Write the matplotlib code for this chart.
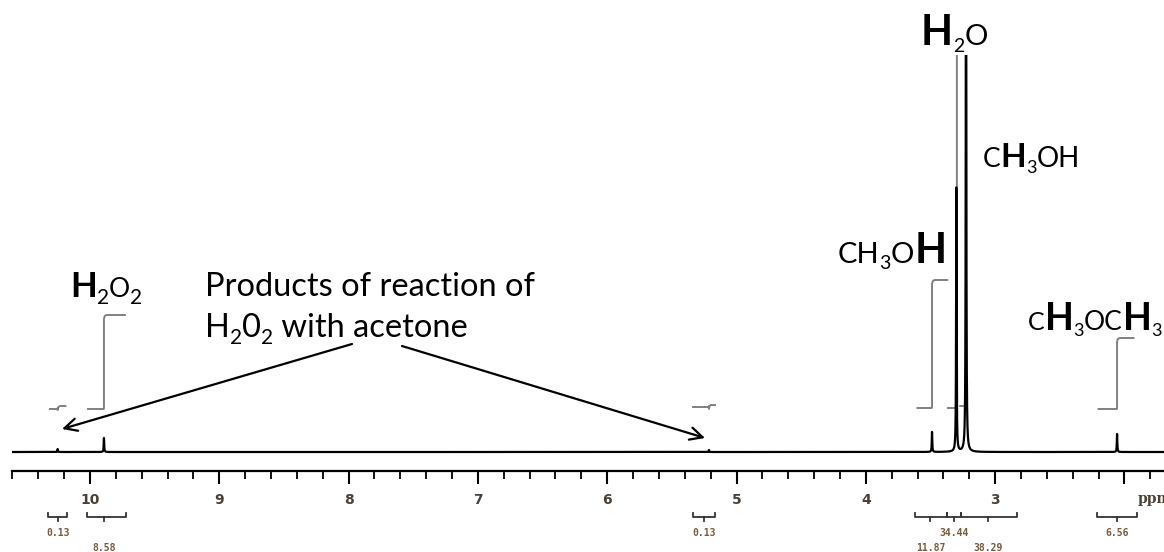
import numpy as np
import matplotlib
matplotlib.use("Agg")
import matplotlib.pyplot as plt
from matplotlib.transforms import offset_copy

# ---------------- data ----------------
peak_ppm = [10.25, 9.892, 5.213, 3.488, 3.300, 3.225, 2.057]
peak_height = [3, 14, 2, 20, 264, 700, 18]
peak_hwhm = 0.0022

# integral traces (start, rise position, end, low level, high level)
int_start = [10.31, 10.015, 5.336, 3.600, 3.365, 3.270, 2.200]
int_rise = [10.25, 9.892, 5.213, 3.488, 3.296, 3.225, 2.057]
int_end = [10.19, 9.730, 5.166, 3.370, 3.250, 3.180, 1.930]
int_low = [43, 43, 45, 44, 44, 46, 43]
int_high = [46, 137, 47, 172, 600, 600, 114]

# integration regions below the axis
reg_lo = [10.325, 10.023, 5.336, 3.620, 3.372, 3.264, 2.212]
reg_hi = [10.178, 9.722, 5.166, 3.372, 3.264, 2.830, 1.900]
reg_center = [10.25, 9.89, 5.25, 3.50, 3.32, 3.055, 2.057]
reg_value = ['0.13', '8.58', '0.13', '11.87', '34.44', '38.29', '6.56']
reg_row = [0, 1, 0, 1, 0, 1, 0]

major_ticks = [10, 9, 8, 7, 6, 5, 4, 3, 2]
major_labels = ['10', '9', '8', '7', '6', '5', '4', '3', '']

# ---------------- figure ----------------
W, H = 1164, 552
fig = plt.figure(figsize=(W / 100, H / 100), dpi=100)
AX_BOTTOM_PX = 471   # pixel row of axis line (from top)
AX_TOP_PX = 55
ax = fig.add_axes([12 / W, (H - AX_BOTTOM_PX) / H, 1152 / W,
                   (AX_BOTTOM_PX - AX_TOP_PX) / H])
ax.set_xlim(10.603, 1.694)
ax.set_ylim(-19, 397)

for s in ['top', 'left', 'right']:
    ax.spines[s].set_visible(False)
ax.spines['bottom'].set_linewidth(1.6)
ax.set_yticks([])

ax.set_xticks(major_ticks)
ax.set_xticklabels(major_labels)
ax.set_xticks(np.round(np.arange(1.8, 10.61, 0.2), 1), minor=True)
ax.tick_params(axis='x', which='major', length=9, width=1.5, direction='out',
               pad=7, labelsize=10, labelcolor='#4a4035')
ax.tick_params(axis='x', which='minor', length=6, width=1.3, direction='out')
for lab in ax.get_xticklabels():
    lab.set_fontweight('bold')
    lab.set_family('DejaVu Sans')

# spectrum
xs = np.linspace(10.603, 1.694, 60000)
ys = np.zeros_like(xs)
for p, h in zip(peak_ppm, peak_height):
    ys += h * peak_hwhm ** 2 / ((xs - p) ** 2 + peak_hwhm ** 2)
ax.plot(xs, ys, color='black', lw=1.6, zorder=3)

# integral traces
for s, r, e, lo, hi in zip(int_start, int_rise, int_end, int_low, int_high):
    hook = min(0.02, (r - e) * 0.3)
    px = [s, r + 0.002, r, r, r - hook * 0.3, r - hook, e]
    py = [lo, lo, lo + 1, hi - 4, hi - 1, hi, hi]
    ax.plot(px, py, color='#808080', lw=1.4, zorder=2)

# integration brackets
trans = ax.get_xaxis_transform()


def ya(ypx):
    return (AX_BOTTOM_PX - ypx) / (AX_BOTTOM_PX - AX_TOP_PX)


for lo, hi, c, v, row in zip(reg_lo, reg_hi, reg_center, reg_value, reg_row):
    ax.plot([lo, lo, hi, hi], [ya(513), ya(517), ya(517), ya(513)],
            color='#333333', lw=1.3, transform=trans, clip_on=False)
    ax.plot([c, c], [ya(517), ya(521)], color='#333333', lw=1.3,
            transform=trans, clip_on=False)
    ax.text(c, ya(533 if row == 0 else 548), v, transform=trans,
            ha='center', va='center', fontsize=7, fontweight='bold',
            family='DejaVu Sans Mono', color='#7a5a3a', clip_on=False)

# ppm unit label (cut by the right edge, as in the original)
ax.text(1.895, ya(499), 'ppm', transform=trans, ha='left', va='center',
        fontsize=10, fontweight='bold', family='DejaVu Serif',
        color='#4a4035', clip_on=False)

# ---------------- annotations ----------------
FONT = 'Lato'
renderer = fig.canvas.get_renderer()


def px2data(xpx, ypx):
    inv = ax.transData.inverted()
    return inv.transform((xpx, H - ypx))


def mixed(xpx, ypx, parts):
    """parts: list of (text, size, weight, dy_px)"""
    x0, y0 = px2data(xpx, ypx)
    dx = 0.0
    for txt, size, weight, dy in parts:
        tr = offset_copy(ax.transData, fig=fig, x=dx, y=-dy, units='dots')
        t = ax.text(x0, y0, txt, transform=tr, fontsize=size,
                    fontweight=weight, family=FONT, ha='left',
                    va='baseline', color='black', clip_on=False)
        bb = t.get_window_extent(renderer)
        dx += bb.width


mixed(70, 297, [('H', 25, 'bold', 0), ('2', 15, 'normal', 7),
                ('O', 19, 'normal', 0), ('2', 15, 'normal', 7)])
mixed(921, 45, [('H', 30, 'bold', 0), ('2', 14, 'normal', 7),
                ('O', 21, 'normal', 0)])
mixed(838, 263, [('CH', 21, 'normal', 0), ('3', 14, 'normal', 6),
                 ('O', 21, 'normal', 0), ('H', 30, 'bold', 0)])
mixed(983, 167, [('C', 19, 'normal', 0), ('H', 24, 'bold', 0),
                 ('3', 13, 'normal', 6), ('OH', 20, 'normal', 0)])
mixed(1028, 330, [('C', 18, 'normal', 0), ('H', 27, 'bold', 0),
                  ('3', 13, 'normal', 6), ('OC', 19, 'normal', 0),
                  ('H', 27, 'bold', 0), ('3', 13, 'normal', 6)])

mixed(205, 296, [('Products of reaction of', 23.5, 'normal', 0)])
mixed(205, 337, [('H', 23.5, 'normal', 0), ('2', 15, 'normal', 7),
                 ('0', 23.5, 'normal', 0), ('2', 15, 'normal', 7),
                 (' with acetone', 23.5, 'normal', 0)])

# arrows
a1_tail = px2data(352, 344)
a1_head = px2data(62, 429)
a2_tail = px2data(402, 346)
a2_head = px2data(705, 438)
for tail, head in [(a1_tail, a1_head), (a2_tail, a2_head)]:
    ax.annotate('', xy=head, xytext=tail,
                arrowprops=dict(arrowstyle='->,head_length=0.9,head_width=0.45',
                                color='black', lw=1.6, shrinkA=0, shrinkB=0),
                annotation_clip=False)

fig.savefig('out.png', dpi=100)
